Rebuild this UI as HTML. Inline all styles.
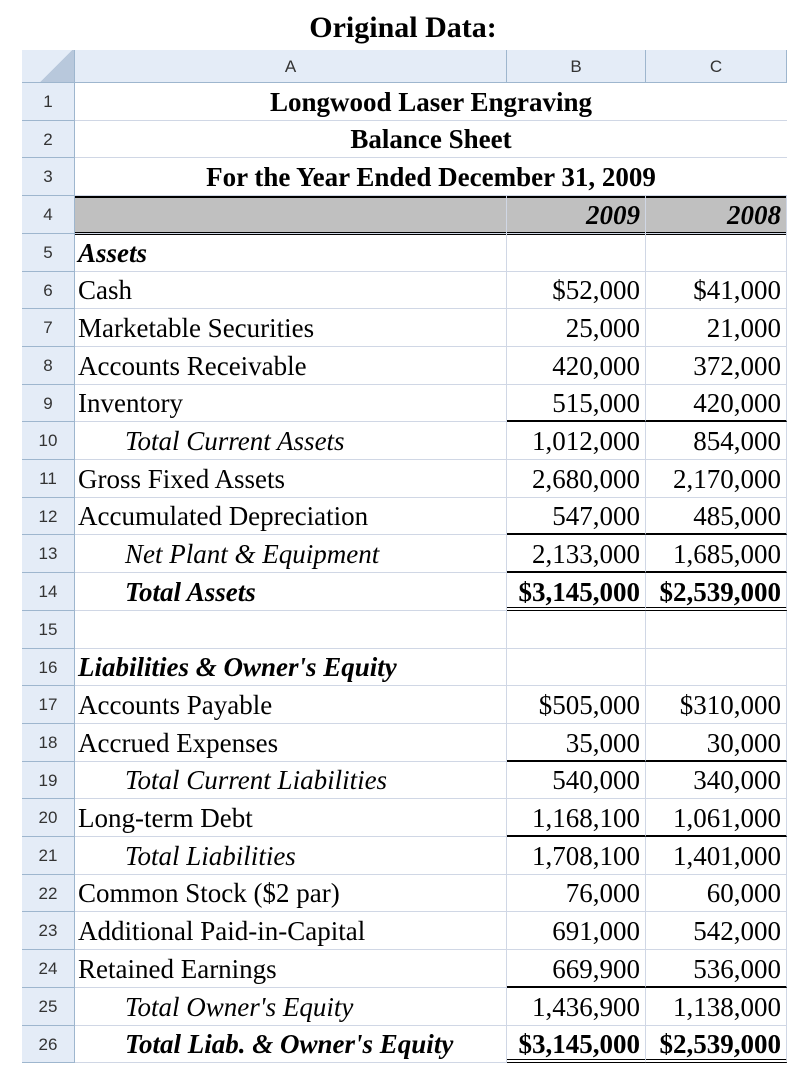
<!DOCTYPE html>
<html><head><meta charset="utf-8"><style>
body{margin:0;width:806px;height:1084px;background:#fff;position:relative;overflow:hidden;font-family:"Liberation Serif",serif;}
#title{position:absolute;left:0;width:806px;top:10px;text-align:center;font-weight:bold;font-size:30px;line-height:36px;}
.c{position:absolute;box-sizing:border-box;white-space:nowrap;overflow:visible;font-size:27px;line-height:37px;color:#000;}
.hd{background:#e4ecf7;color:#333;font-family:"Liberation Sans",sans-serif;font-size:17px;text-align:center;border-right:1px solid #9eb6ce;border-bottom:1px solid #9eb6ce;}
.g{border-right:1px solid #d0d7e5;border-bottom:1px solid #d0d7e5;}
.num{text-align:right;padding-right:5px;}
</style></head><body>
<div id="title">Original Data:</div>
<div id="sheet"></div>
<script>
const X=[22,75,507,646,787];
const TOP=50,HH=33,ROW0=83,RH=37.7;
const labels=["Longwood Laser Engraving","Balance Sheet","For the Year Ended December 31, 2009","","Assets","Cash","Marketable Securities","Accounts Receivable","Inventory","Total Current Assets","Gross Fixed Assets","Accumulated Depreciation","Net Plant & Equipment","Total Assets","","Liabilities & Owner's Equity","Accounts Payable","Accrued Expenses","Total Current Liabilities","Long-term Debt","Total Liabilities","Common Stock ($2 par)","Additional Paid-in-Capital","Retained Earnings","Total Owner's Equity","Total Liab. & Owner's Equity"];
const col2009=["","","","2009","","$52,000","25,000","420,000","515,000","1,012,000","2,680,000","547,000","2,133,000","$3,145,000","","","$505,000","35,000","540,000","1,168,100","1,708,100","76,000","691,000","669,900","1,436,900","$3,145,000"];
const col2008=["","","","2008","","$41,000","21,000","372,000","420,000","854,000","2,170,000","485,000","1,685,000","$2,539,000","","","$310,000","30,000","340,000","1,061,000","1,401,000","60,000","542,000","536,000","1,138,000","$2,539,000"];
const styleA={1:"b c",2:"b c",3:"b c",5:"bi",10:"ii",13:"ii",14:"bii",16:"bi",19:"ii",21:"ii",25:"ii",26:"bii"};
const single=[9,12,13,18,20,24];
const dbl=[14,26];
const S=document.getElementById('sheet');
function mk(x,y,w,h,cls,txt){const d=document.createElement('div');d.className='c '+cls;d.style.left=x+'px';d.style.top=y+'px';d.style.width=w+'px';d.style.height=h+'px';d.textContent=txt;S.appendChild(d);return d;}
let corner=mk(X[0],TOP,X[1]-X[0],HH,'hd','');


corner.style.background='linear-gradient(135deg,#e4ecf7 60%,#b8c8dc 60%)';
['A','B','C'].forEach((L,i)=>{const h=mk(X[i+1],TOP,X[i+2]-X[i+1],HH,'hd',L);h.style.lineHeight=HH+'px';

});
for(let r=1;r<=26;r++){
 const y=Math.round(ROW0+(r-1)*RH),h=Math.round(ROW0+r*RH)-y;
 const rn=mk(X[0],y,X[1]-X[0],h,'hd',String(r));rn.style.lineHeight=h+'px';
 
 
 const st=styleA[r]||"";
 let a;
 if(r<=3){a=mk(X[1],y,X[4]-X[1],h,'g',labels[r-1]);a.style.textAlign='center';a.style.fontWeight='bold';a.style.borderRight='none';}
 else{a=mk(X[1],y,X[2]-X[1],h,'g',labels[r-1]);
  if(st.includes('b'))a.style.fontWeight='bold';
  if(st.includes('i'))a.style.fontStyle='italic';
  if(st.includes('ii'))a.style.paddingLeft='50px';else a.style.paddingLeft='3px';}
 a.style.lineHeight=h+'px';
 
 
 if(r>3){
  [col2009,col2008].forEach((arr,k)=>{
   const v=mk(X[2+k],y,X[3+k]-X[2+k],h,'g num',arr[r-1]);v.style.lineHeight=h+'px';
   if(st.includes('b')||r===4){v.style.fontWeight='bold';}
   if(r===4)v.style.fontStyle='italic';
   if(single.includes(r))v.style.borderBottom='2px solid #000';
   if(dbl.includes(r))v.style.borderBottom='4px double #000';
   
   
  });
 }
 if(r===4){const band=mk(X[1],y-1,X[4]-X[1],h+2,'','');band.style.background='#c0c0c0';band.style.borderTop='3px solid #000';band.style.borderBottom='3px solid #000';band.style.zIndex='-1';
  
  }
}
</script>
</body></html>
